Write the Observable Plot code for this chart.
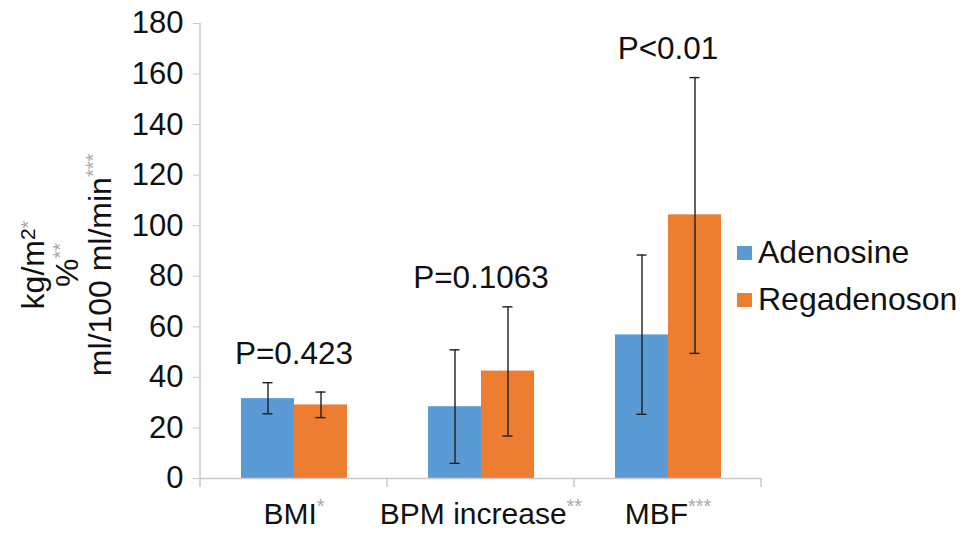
<!DOCTYPE html>
<html>
<head>
<meta charset="utf-8">
<script src="https://cdn.jsdelivr.net/npm/d3@7"></script>
<script src="https://cdn.jsdelivr.net/npm/@observablehq/plot@0.6"></script>
<style>
  html, body { margin: 0; padding: 0; background: #fff; }
  #wrap { position: relative; width: 969px; height: 536px; font-family: "Liberation Sans", Arial, Helvetica, sans-serif; }
  #legend { position: absolute; left: 737px; top: 229px; font-size: 32px; color: #111; }
  #legend .row { display: flex; align-items: center; height: 47px; }
  #legend .sw { width: 15px; height: 14px; margin-right: 6px; }
</style>
</head>
<body>
<div id="wrap"><div id="legend"></div></div>
<script>
// ---- data ----
const categories = ["BMI", "BPM increase", "MBF"];
const categoryMarks = ["*", "**", "***"];
const series = ["Adenosine", "Regadenoson"];
const seriesColors = ["#5B9BD5", "#ED7D31"];
const adenosineMean = [31.6, 28.4, 56.8];
const adenosineLow = [25.6, 6.0, 25.4];
const adenosineHigh = [37.9, 50.9, 88.4];
const regadenosonMean = [29.1, 42.5, 104.3];
const regadenosonLow = [24.1, 16.8, 49.5];
const regadenosonHigh = [34.2, 67.9, 158.6];
const pLabels = ["P=0.423", "P=0.1063", "P<0.01"];
const yTicks = [0, 20, 40, 60, 80, 100, 120, 140, 160, 180];
const yLabelLines = [
  {text: "kg/m", sup: "2", marks: "*"},
  {text: "%", sup: "", marks: "**"},
  {text: "ml/100 ml/min", sup: "", marks: "***"}
];

// ---- tables ----
const rows = [];
categories.forEach((c, i) => {
  rows.push({category: c, series: series[0], mean: adenosineMean[i], low: adenosineLow[i], high: adenosineHigh[i]});
  rows.push({category: c, series: series[1], mean: regadenosonMean[i], low: regadenosonLow[i], high: regadenosonHigh[i]});
});
const pRows = categories.map((c, i) => ({
  category: c,
  top: Math.max(adenosineHigh[i], regadenosonHigh[i]),
  label: pLabels[i]
}));

const FONT = "Liberation Sans, Arial, Helvetica, sans-serif";
const AXIS_GRAY = "#c9c9c9";
const ERR = "#1e1e1e";

const plot = Plot.plot({
  width: 969,
  height: 536,
  marginLeft: 199,
  marginRight: 208,
  marginTop: 23,
  marginBottom: 58,
  style: {fontFamily: FONT, fontSize: "30px", background: "white", color: "#111"},
  fx: {domain: categories, padding: 0, label: null},
  x: {domain: series, paddingInner: 0, paddingOuter: 0.75, axis: null},
  y: {domain: [0, 180], label: null},
  color: {domain: series, range: seriesColors},
  marks: [
    Plot.axisY({ticks: yTicks, tickSize: 7, tickPadding: 10, stroke: AXIS_GRAY, fill: "#111", fontSize: 31, label: null}),
    Plot.axisFx({anchor: "bottom", tickSize: 0, tickPadding: 24, fontSize: 30, fill: "#111", label: null}),
    Plot.barY(rows, {fx: "category", x: "series", y: "mean", fill: "series"}),
    Plot.ruleY([0], {stroke: AXIS_GRAY, strokeWidth: 1.5}),
    Plot.ruleX(rows, {fx: "category", x: "series", y1: "low", y2: "high", stroke: ERR, strokeWidth: 1.4}),
    Plot.tickY(rows, {fx: "category", x: "series", y: "low", stroke: ERR, strokeWidth: 1.4, insetLeft: 21.5, insetRight: 21.5}),
    Plot.tickY(rows, {fx: "category", x: "series", y: "high", stroke: ERR, strokeWidth: 1.4, insetLeft: 21.5, insetRight: 21.5}),
    Plot.text(pRows, {fx: "category", y: "top", text: "label", dy: -29, fontSize: 31.5, fill: "#111"})
  ]
});

const wrap = document.getElementById("wrap");
wrap.insertBefore(plot, wrap.firstChild);

const svg = d3.select(plot);
const fx = plot.scale("fx");
const y = plot.scale("y");
const y0 = y.apply(0);
const yTop = y.apply(180);
const xs = categories.map(c => fx.apply(c));
const boundaries = [...xs, xs[xs.length - 1] + fx.bandwidth];

// y axis line and category boundary ticks
svg.append("line")
  .attr("x1", boundaries[0]).attr("x2", boundaries[0])
  .attr("y1", yTop).attr("y2", y0 + 9)
  .attr("stroke", AXIS_GRAY).attr("stroke-width", 1.5);
boundaries.slice(1).forEach(bx => {
  svg.append("line")
    .attr("x1", bx).attr("x2", bx)
    .attr("y1", y0).attr("y2", y0 + 9)
    .attr("stroke", AXIS_GRAY).attr("stroke-width", 1.5);
});

// superscript marks on category labels
svg.selectAll('g[aria-label="fx-axis tick label"] text').each(function() {
  const t = d3.select(this);
  const i = categories.indexOf(this.textContent.trim());
  if (i >= 0) {
    t.append("tspan")
      .attr("dy", "-0.55em")
      .attr("font-size", 20)
      .attr("fill", "#aaa")
      .text(categoryMarks[i]);
  }
});

// y axis title (three rotated lines)
const yLabelCenter = 265;
const baselines = [44, 78, 111];
yLabelLines.forEach((ln, i) => {
  const t = svg.append("text")
    .attr("transform", "rotate(-90)")
    .attr("x", -yLabelCenter)
    .attr("y", baselines[i])
    .attr("text-anchor", "middle")
    .attr("font-family", FONT)
    .attr("font-size", 32)
    .attr("fill", "#111");
  t.append("tspan").text(ln.text);
  if (ln.sup) {
    t.append("tspan").attr("dy", "-0.45em").attr("font-size", 21).text(ln.sup);
    t.append("tspan").attr("font-size", 20).attr("fill", "#aaa").text(ln.marks);
  } else {
    t.append("tspan").attr("dy", "-0.55em").attr("font-size", 20).attr("fill", "#aaa").text(ln.marks);
  }
});

// legend
const legend = d3.select("#legend");
series.forEach((s, i) => {
  const r = legend.append("div").attr("class", "row");
  r.append("div").attr("class", "sw").style("background", seriesColors[i]);
  r.append("span").text(s);
});
</script>
</body>
</html>
